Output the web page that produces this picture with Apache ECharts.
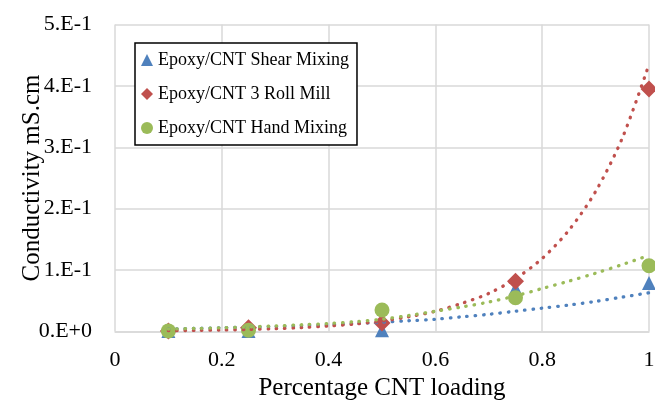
<!DOCTYPE html>
<html>
<head>
<meta charset="utf-8">
<script src="https://cdn.jsdelivr.net/npm/echarts@6/dist/echarts.min.js"></script>
<style>
html,body{margin:0;padding:0;background:#fff;}
#chart{width:655px;height:401px;}
</style>
</head>
<body>
<div id="chart"></div>
<script>
// Data
const loading = [0.1, 0.25, 0.5, 0.75, 1.0];
const shearMixing = [0.001, 0.001, 0.002, 0.070, 0.079];
const rollMill = [0.001, 0.006, 0.014, 0.082, 0.395];
const handMixing = [0.001, 0.002, 0.035, 0.055, 0.107];

// Trendline values
const trendX = [0.10, 0.15, 0.20, 0.25, 0.30, 0.35, 0.40, 0.45, 0.50, 0.55, 0.60, 0.65, 0.70, 0.75, 0.80, 0.85, 0.90, 0.95, 1.00];
const shearTrend = [0.004, 0.005, 0.006, 0.007, 0.008, 0.0095, 0.011, 0.013, 0.015, 0.0175, 0.020, 0.024, 0.028, 0.033, 0.038, 0.043, 0.049, 0.056, 0.063];
const rollTrend = [0.0013, 0.0018, 0.0024, 0.0033, 0.0046, 0.0064, 0.0089, 0.0123, 0.017, 0.024, 0.033, 0.046, 0.062, 0.086, 0.119, 0.165, 0.228, 0.315, 0.435];
const handTrend = [0.004, 0.005, 0.006, 0.0075, 0.009, 0.011, 0.013, 0.016, 0.020, 0.026, 0.033, 0.040, 0.048, 0.058, 0.070, 0.082, 0.095, 0.109, 0.124];

const names = ['Epoxy/CNT Shear Mixing', 'Epoxy/CNT 3 Roll Mill', 'Epoxy/CNT Hand Mixing'];
const colors = ['#4F81BD', '#C0504D', '#9BBB59'];

function pairs(xs, ys) { return xs.map((x, i) => [x, ys[i]]); }

const font = '"Liberation Serif", "Times New Roman", serif';
const chart = echarts.init(document.getElementById('chart'), null, {renderer: 'canvas'});

function trend(data, color) {
  return {
    type: 'line', data: pairs(trendX, data), smooth: 0.3,
    showSymbol: false, silent: true, z: 5,
    lineStyle: {color: color, width: 3.3, type: [0.5, 7.8], cap: 'round'}
  };
}

chart.setOption({
  animation: false,
  grid: {left: 115, right: 6, top: 24.5, bottom: 69.5, containLabel: false, outerBoundsMode: 'none'},
  xAxis: {
    type: 'value', min: 0, max: 1, interval: 0.2,
    name: 'Percentage CNT loading', nameLocation: 'middle', nameGap: 44, nameMoveOverlap: false,
    nameTextStyle: {fontFamily: font, fontSize: 25, color: '#000'},
    axisLine: {show: true, lineStyle: {color: '#d9d9d9', width: 1.5}},
    axisTick: {show: false},
    axisLabel: {fontFamily: font, fontSize: 22, color: '#000', margin: 18,
      formatter: v => String(Math.round(v * 10) / 10)},
    splitLine: {show: true, lineStyle: {color: '#d9d9d9', width: 1.5}}
  },
  yAxis: {
    type: 'value', min: 0, max: 0.5, interval: 0.1,
    name: 'Conductivity mS.cm', nameLocation: 'middle', nameGap: 70, nameMoveOverlap: false,
    nameTextStyle: {fontFamily: font, fontSize: 25, color: '#000'},
    axisLine: {show: false},
    axisTick: {show: false},
    axisLabel: {fontFamily: font, fontSize: 22, color: '#000', margin: 23,
      formatter: v => Number(v.toFixed(3)).toExponential(0).replace('e', '.E')},
    splitLine: {show: true, lineStyle: {color: '#d9d9d9', width: 1.5}}
  },
  legend: {
    orient: 'vertical', left: 135, top: 43,
    backgroundColor: '#fff', borderColor: '#000', borderWidth: 1.5,
    padding: [8, 8, 8, 6], itemGap: 16, itemWidth: 12, itemHeight: 12,
    textStyle: {fontFamily: font, fontSize: 18, color: '#000'},
    data: [
      {name: names[0], icon: 'triangle'},
      {name: names[1], icon: 'diamond'},
      {name: names[2], icon: 'circle'}
    ]
  },
  series: [
    {name: names[0], type: 'scatter', data: pairs(loading, shearMixing), symbol: 'triangle', symbolSize: 14, itemStyle: {color: colors[0], opacity: 1}, z: 2},
    {name: names[1], type: 'scatter', data: pairs(loading, rollMill), symbol: 'diamond', symbolSize: 17, itemStyle: {color: colors[1], opacity: 1}, z: 3},
    {name: names[2], type: 'scatter', data: pairs(loading, handMixing), symbol: 'circle', symbolSize: 15, itemStyle: {color: colors[2], opacity: 1}, z: 4},
    trend(shearTrend, colors[0]),
    trend(rollTrend, colors[1]),
    trend(handTrend, colors[2])
  ]
});
</script>
</body>
</html>
